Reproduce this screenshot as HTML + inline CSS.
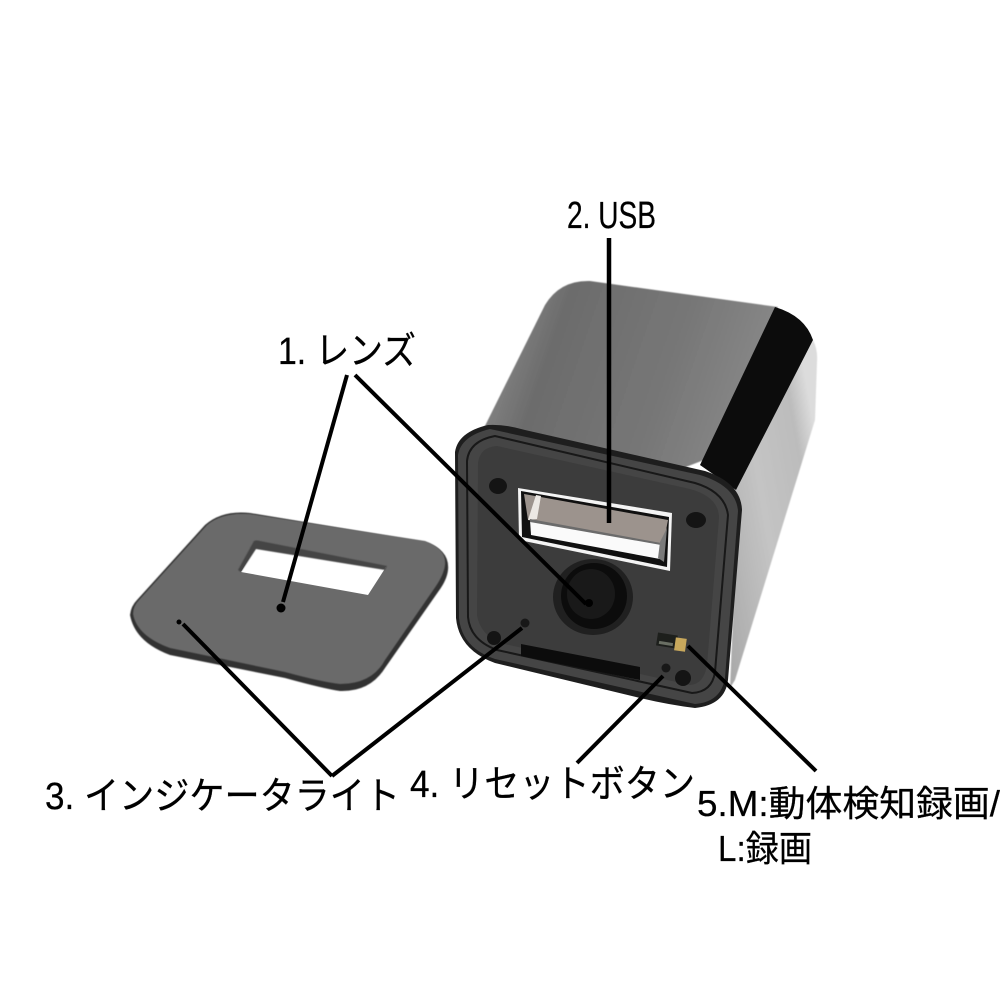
<!DOCTYPE html>
<html><head><meta charset="utf-8"><style>
html,body{margin:0;padding:0;background:#fff;width:1000px;height:1000px;overflow:hidden}
svg{display:block}
text{font-family:"Liberation Sans","Noto Sans CJK JP",sans-serif;fill:#000;stroke:#000;stroke-width:.25}
</style></head><body>
<svg width="1000" height="1000" viewBox="0 0 1000 1000" xmlns="http://www.w3.org/2000/svg">
<defs>
<linearGradient id="top" x1="0" y1="0" x2="1" y2="0.25"><stop offset="0" stop-color="#444"/><stop offset="0.17" stop-color="#808080"/><stop offset="0.3" stop-color="#6c6c6c"/><stop offset="0.7" stop-color="#777"/><stop offset="1" stop-color="#888"/></linearGradient>
<linearGradient id="side" x1="0" y1="1" x2="1" y2="0.3"><stop offset="0" stop-color="#a8a8a8"/><stop offset="0.5" stop-color="#c4c4c4"/><stop offset="0.85" stop-color="#bcbcbc"/><stop offset="1" stop-color="#dcdcdc"/></linearGradient>
<filter id="b0"><feGaussianBlur stdDeviation=".5"/></filter>
<filter id="b1"><feGaussianBlur stdDeviation="1"/></filter>
</defs>

<!-- plate -->
<path d="M130 615 Q131 606 137 600 L205 525 Q222 510 250 513 L425 542 Q450 550 448 570 Q447 580 438 592 L385 668 Q370 692 340 691 Q325 689 285 678 L170 655 Q135 642 130 615Z" fill="#333" filter="url(#b0)"/>
<path d="M133 614 Q133 606 139 600 L207 525 Q222 512 250 514 L425 541 Q447 549 445 565 Q444 574 436 586 L385 660 Q372 684 340 684 Q322 682 285 672 L170 648 Q137 636 133 614Z" fill="#6b6b6b" filter="url(#b0)"/>
<path d="M256 546 L386 567 L368 595 L241 572Z" fill="#fff"/>
<path d="M254 541 Q256 540 260 541 L387 566 L385 570 L256 549 L241 572 L238 570Z" fill="#444" filter="url(#b0)"/>
<circle cx="281" cy="608" r="4.5" fill="#000"/>
<circle cx="179" cy="622" r="2.5" fill="#000"/>

<!-- body -->
<path d="M813 340 Q818 350 817 362 L815 420 L735 680 L730 688 L738 500 L733 483Z" fill="url(#side)" filter="url(#b0)"/>
<path d="M478 440 L545 305 Q560 280 590 281 L778 307 L704 460 L600 500Z" fill="url(#top)" filter="url(#b0)"/>
<path d="M775 307 Q805 316 813 340 L736 490 L700 465 Z" fill="#0c0c0c"/>

<!-- front face -->
<path d="M455 452 Q458 432 488 425 Q505 424 525 430 L705 471 Q741 483 742 510 L728 680 Q725 705 695 708 Q670 705 640 698 L495 663 Q459 650 456 618Z" fill="#1e1e1e"/>
<path d="M458 455 Q461 436 490 429 L700 475 Q736 486 738 511 L725 678 Q721 702 695 704 L495 659 Q462 648 459 618Z" fill="#454545"/>
<path d="M467 461 Q469 441 495 436 L695 483 Q725 492 728 515 L715 672 Q712 692 692 693 L497 650 Q470 640 468 617Z" fill="none" stroke="#181818" stroke-width="2"/>
<path d="M478 463 Q480 447 497 446 L690 489 Q719 497 719 518 L707 665 Q704 684 690 685 L500 643 Q480 634 477 615Z" fill="#3c3c3c"/>

<!-- screw holes -->
<ellipse cx="498" cy="486" rx="9" ry="8" fill="#141414"/>
<ellipse cx="696" cy="520" rx="10" ry="8" fill="#141414"/>
<ellipse cx="494" cy="638" rx="7" ry="7" fill="#141414"/>
<ellipse cx="683" cy="678" rx="8" ry="8" fill="#141414"/>
<circle cx="525" cy="623" r="4.5" fill="#181818"/>
<circle cx="666" cy="668" r="4.5" fill="#181818"/>

<!-- SD slot -->
<path d="M521 644 L640 667 L640 680 L521 656Z" fill="#0c0c0c"/>

<!-- USB port -->
<path d="M518 488 L672 513 L670 571 L519 540Z" fill="#f4f4f4"/>
<path d="M521 491 L669 517 L667 567 L522 537Z" fill="#101010"/>
<path d="M524 494 L668 520 L663 546 L528 520Z" fill="#9c938d"/>
<path d="M528 520 L536 495 L541 496 L537 519Z" fill="#ece8e4"/>
<path d="M530 520 L663 544 L660 559 L531 535Z" fill="#fafafa"/>
<path d="M530 519 L661 543 L661 545 L530 522Z" fill="#6b6b6b"/>
<path d="M660 542 L667 528 L664 562 L658 558Z" fill="#7a7a7a"/>

<!-- lens -->
<ellipse cx="593" cy="597" rx="40" ry="38" fill="#202020"/>
<ellipse cx="594" cy="596" rx="33" ry="33" fill="#0c0c0c"/>
<ellipse cx="591" cy="594" rx="24" ry="25" fill="#191919"/>
<circle cx="589" cy="603" r="4" fill="#000"/>

<!-- switch -->
<rect x="657" y="634" width="20" height="13" transform="rotate(9 667 640)" fill="#1d1f1c"/>
<rect x="659" y="642" width="14" height="3" transform="rotate(9 666 643)" fill="#6a6f64"/>
<rect x="675" y="638" width="11" height="13" transform="rotate(8 680 644)" fill="#c8a85c"/>

<!-- callout lines -->
<g stroke="#000" stroke-width="4" fill="none" stroke-linecap="butt">
<line x1="609" y1="238" x2="609" y2="523" stroke-width="4.5"/>
<line x1="347" y1="375" x2="283" y2="602"/>
<line x1="355" y1="375" x2="586" y2="604"/>
<line x1="183" y1="624" x2="332" y2="776"/>
<line x1="332" y1="776" x2="522" y2="628"/>
<line x1="577" y1="763" x2="663" y2="676"/>
<line x1="688" y1="646" x2="816" y2="771"/>
</g>

<!-- labels -->
<text x="567" y="228" font-size="38" textLength="89" lengthAdjust="spacingAndGlyphs">2. USB</text>
<text x="278" y="364" font-size="38" textLength="138" lengthAdjust="spacingAndGlyphs">1. レンズ</text>
<text x="45" y="809" font-size="38" textLength="355" lengthAdjust="spacingAndGlyphs">3. インジケータライト</text>
<text x="410" y="797" font-size="38" textLength="285" lengthAdjust="spacingAndGlyphs">4. リセットボタン</text>
<text x="697" y="816" font-size="36" textLength="303" lengthAdjust="spacingAndGlyphs">5.M:動体検知録画/</text>
<text x="718" y="861" font-size="36" textLength="94" lengthAdjust="spacingAndGlyphs">L:録画</text>
</svg>
</body></html>
